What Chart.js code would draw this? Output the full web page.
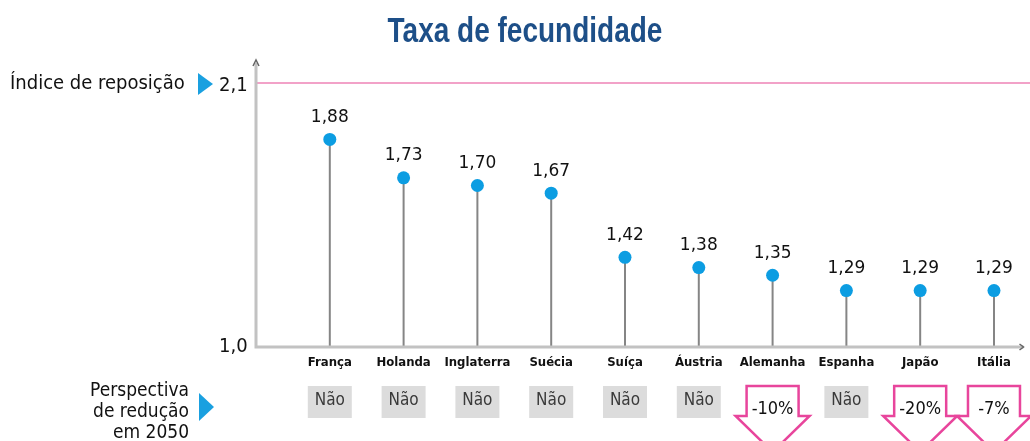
<!DOCTYPE html>
<html>
<head>
<meta charset="utf-8">
<script src="https://cdn.jsdelivr.net/npm/chart.js@4"></script>
<style>
  html, body { margin: 0; padding: 0; background: #fff; }
  #wrap { width: 1030px; height: 441px; position: relative; }
</style>
</head>
<body>
<div id="wrap"><canvas id="chart"></canvas></div>
<script>
// data
const countries = ['França', 'Holanda', 'Inglaterra', 'Suécia', 'Suíça', 'Áustria', 'Alemanha', 'Espanha', 'Japão', 'Itália'];
const fertility = [1.88, 1.73, 1.70, 1.67, 1.42, 1.38, 1.35, 1.29, 1.29, 1.29];
const reduction2050 = ['Não', 'Não', 'Não', 'Não', 'Não', 'Não', '-10%', 'Não', '-20%', '-7%'];
const replacementIndex = 2.1;
const yTickLabels = ['2,1', '1,0'];

const fmt = (v) => v.toFixed(2).replace('.', ',');

const drawTriangle = (ctx, x, y, h) => {
  ctx.save();
  ctx.fillStyle = '#1aa0e0';
  ctx.beginPath();
  ctx.moveTo(x, y - h);
  ctx.lineTo(x + 15, y);
  ctx.lineTo(x, y + h);
  ctx.closePath();
  ctx.fill();
  ctx.restore();
};

// condensed text: squeeze a normal font horizontally
const narrowText = (ctx, text, x, y, sx) => {
  ctx.save();
  ctx.translate(x, y);
  ctx.scale(sx, 1);
  ctx.fillText(text, 0, 0);
  ctx.restore();
};

const lollipopPlugin = {
  id: 'lollipop',
  beforeDatasetsDraw(chart) {
    const { ctx, scales: { x, y }, chartArea } = chart;
    ctx.save();
    // replacement line
    const yr = y.getPixelForValue(replacementIndex);
    ctx.strokeStyle = '#f2a2c8';
    ctx.lineWidth = 2;
    ctx.beginPath();
    ctx.moveTo(chartArea.left, yr);
    ctx.lineTo(1030, yr);
    ctx.stroke();

    // stems
    ctx.strokeStyle = '#858585';
    ctx.lineWidth = 2;
    fertility.forEach((v, i) => {
      const px = x.getPixelForValue(i + 1);
      ctx.beginPath();
      ctx.moveTo(px, y.getPixelForValue(v));
      ctx.lineTo(px, chartArea.bottom);
      ctx.stroke();
    });

    // axes
    ctx.strokeStyle = '#c2c2c2';
    ctx.lineWidth = 3;
    ctx.beginPath();
    ctx.moveTo(chartArea.left, chartArea.top - 20);
    ctx.lineTo(chartArea.left, chartArea.bottom);
    ctx.lineTo(chartArea.right, chartArea.bottom);
    ctx.stroke();
    ctx.lineWidth = 1.5;
    ctx.strokeStyle = '#666';
    ctx.beginPath();
    ctx.moveTo(chartArea.left - 3, chartArea.top - 17);
    ctx.lineTo(chartArea.left, chartArea.top - 23);
    ctx.lineTo(chartArea.left + 3, chartArea.top - 17);
    ctx.moveTo(chartArea.right - 4, chartArea.bottom - 3);
    ctx.lineTo(chartArea.right, chartArea.bottom);
    ctx.lineTo(chartArea.right - 4, chartArea.bottom + 3);
    ctx.stroke();
    ctx.restore();
  },
  afterDatasetsDraw(chart) {
    const { ctx, scales: { x, y }, chartArea } = chart;
    ctx.save();
    ctx.textAlign = 'center';
    ctx.textBaseline = 'middle';

    // value labels
    ctx.fillStyle = '#111';
    ctx.font = '17px "DejaVu Sans"';
    fertility.forEach((v, i) => {
      ctx.fillText(fmt(v), x.getPixelForValue(i + 1), y.getPixelForValue(v) - 22);
    });

    // category labels
    ctx.font = 'bold 13px "DejaVu Sans"';
    countries.forEach((c, i) => {
      narrowText(ctx, c, x.getPixelForValue(i + 1), chartArea.bottom + 16, 0.9);
    });

    // 2050 row
    const rowTop = 386;
    reduction2050.forEach((r, i) => {
      const cx = x.getPixelForValue(i + 1);
      if (r === 'Não') {
        ctx.fillStyle = '#dcdcdc';
        ctx.fillRect(cx - 22, rowTop, 44, 32);
        ctx.fillStyle = '#3a3a3a';
        ctx.font = '17px "DejaVu Sans Condensed"';
        ctx.fillText(r, cx, rowTop + 15);
      } else {
        ctx.strokeStyle = '#e8459c';
        ctx.lineWidth = 2.5;
        ctx.fillStyle = '#fff';
        ctx.beginPath();
        ctx.moveTo(cx - 26, rowTop);
        ctx.lineTo(cx + 26, rowTop);
        ctx.lineTo(cx + 26, rowTop + 30);
        ctx.lineTo(cx + 37, rowTop + 30);
        ctx.lineTo(cx, rowTop + 66);
        ctx.lineTo(cx - 37, rowTop + 30);
        ctx.lineTo(cx - 26, rowTop + 30);
        ctx.closePath();
        ctx.fill();
        ctx.stroke();
        ctx.fillStyle = '#111';
        ctx.font = '18px "DejaVu Sans Condensed"';
        ctx.fillText(r, cx, rowTop + 23);
      }
    });

    // left side texts
    ctx.fillStyle = '#111';
    ctx.textAlign = 'left';
    ctx.font = '20px "DejaVu Sans Condensed"';
    const yr = y.getPixelForValue(replacementIndex);
    ctx.fillText('Índice de reposição', 10, yr + 1);
    drawTriangle(ctx, 198, yr + 1, 11);
    ctx.font = '20px "DejaVu Sans Condensed"';
    ctx.fillText(yTickLabels[0], 219, yr + 3);
    ctx.fillText(yTickLabels[1], 219, chartArea.bottom);

    ctx.textAlign = 'right';
    ctx.font = '19px "DejaVu Sans Condensed"';
    ctx.fillText('Perspectiva', 189, 391);
    ctx.fillText('de redução', 189, 412);
    ctx.fillText('em 2050', 189, 433);
    drawTriangle(ctx, 199, 407, 14);

    // title
    ctx.textAlign = 'center';
    ctx.fillStyle = '#1d4f88';
    ctx.font = 'bold 35px "Liberation Sans"';
    narrowText(ctx, 'Taxa de fecundidade', 525, 32, 0.8);
    ctx.restore();
  }
};

new Chart(document.getElementById('chart'), {
  type: 'scatter',
  data: {
    datasets: [{
      data: fertility.map((v, i) => ({ x: i + 1, y: v })),
      pointRadius: 6.5,
      pointHoverRadius: 6.5,
      pointBackgroundColor: '#0c9de2',
      pointBorderWidth: 0,
      clip: false,
    }],
  },
  options: {
    responsive: true,
    maintainAspectRatio: false,
    animation: false,
    events: [],
    layout: { padding: { left: 256, right: 4, top: 83, bottom: 94 } },
    plugins: { legend: { display: false }, tooltip: { enabled: false } },
    scales: {
      x: { type: 'linear', min: 0, max: 10.4, display: false },
      y: { type: 'linear', min: 1.07, max: 2.1, display: false },
    },
  },
  plugins: [lollipopPlugin],
});
</script>
</body>
</html>
